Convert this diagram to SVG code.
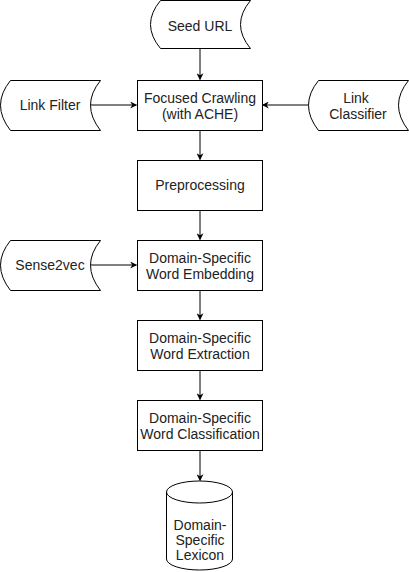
<svg xmlns="http://www.w3.org/2000/svg" width="409" height="572" viewBox="0 0 409 572">
<style>
.s{fill:#fff;stroke:#000;stroke-width:1}
.t{font-family:"Liberation Sans",Arial,sans-serif;font-size:14px;fill:#222;text-anchor:middle}
.c{fill:none;stroke:#000;stroke-width:1}
</style>
<defs>
<marker id="a" viewBox="0 0 10 10" refX="9" refY="5" markerWidth="7" markerHeight="7" markerUnits="userSpaceOnUse" orient="auto">
<path d="M0,0 L10,5 L0,10 L3,5 Z" fill="#000"/>
</marker>
</defs>
<rect width="409" height="572" fill="#fff"/>
<g id="connectors">
<path class="c" d="M200,48.5 V79.5" marker-end="url(#a)"/>
<path class="c" d="M90,105 H136.5" marker-end="url(#a)"/>
<path class="c" d="M308,105 H262.5" marker-end="url(#a)"/>
<path class="c" d="M200,130.5 V159.5" marker-end="url(#a)"/>
<path class="c" d="M200,210.5 V239.5" marker-end="url(#a)"/>
<path class="c" d="M90,265 H136.5" marker-end="url(#a)"/>
<path class="c" d="M200,290.5 V319.5" marker-end="url(#a)"/>
<path class="c" d="M200,370.5 V399.5" marker-end="url(#a)"/>
<path class="c" d="M200,450.5 V480.5" marker-end="url(#a)"/>
</g>
<g id="seed-url">
<path class="s" d="M160.5,0.5 H250.5 Q230.5,24.5 250.5,48.5 H160.5 Q140.5,24.5 160.5,0.5 Z"/>
<text class="t" x="200" y="31">Seed URL</text>
</g>
<g id="link-filter">
<path class="s" d="M10.5,80.5 H100.5 Q80.5,105 100.5,130.5 H10.5 Q-9.5,105 10.5,80.5 Z"/>
<text class="t" x="50" y="110">Link Filter</text>
</g>
<g id="link-classifier">
<path class="s" d="M318.5,80.5 H408.5 Q388.5,105 408.5,130.5 H318.5 Q298.5,105 318.5,80.5 Z"/>
<text class="t" x="356" y="103">Link</text>
<text class="t" x="358" y="119">Classifier</text>
</g>
<g id="focused-crawling">
<rect class="s" x="137.5" y="80.5" width="125" height="50"/>
<text class="t" x="200" y="103">Focused Crawling</text>
<text class="t" x="200" y="119">(with ACHE)</text>
</g>
<g id="preprocessing">
<rect class="s" x="137.5" y="160.5" width="125" height="50"/>
<text class="t" x="200" y="190">Preprocessing</text>
</g>
<g id="sense2vec">
<path class="s" d="M10.5,240.5 H100.5 Q80.5,265 100.5,290.5 H10.5 Q-9.5,265 10.5,240.5 Z"/>
<text class="t" x="50" y="270">Sense2vec</text>
</g>
<g id="word-embedding">
<rect class="s" x="137.5" y="240.5" width="125" height="50"/>
<text class="t" x="200" y="263">Domain-Specific</text>
<text class="t" x="200" y="279">Word Embedding</text>
</g>
<g id="word-extraction">
<rect class="s" x="137.5" y="320.5" width="125" height="50"/>
<text class="t" x="200" y="343">Domain-Specific</text>
<text class="t" x="200" y="359">Word Extraction</text>
</g>
<g id="word-classification">
<rect class="s" x="137.5" y="400.5" width="125" height="50"/>
<text class="t" x="200" y="423">Domain-Specific</text>
<text class="t" x="200" y="439">Word Classification</text>
</g>
<g id="lexicon">
<path class="s" d="M166.5,492 A33,11 0 0 1 232.5,492 V559 A33,11 0 0 1 166.5,559 Z"/>
<path class="c" d="M166.5,492 A33,11 0 0 0 232.5,492"/>
<text class="t" x="200" y="530">Domain-</text>
<text class="t" x="200" y="545">Specific</text>
<text class="t" x="200" y="560">Lexicon</text>
</g>
</svg>
